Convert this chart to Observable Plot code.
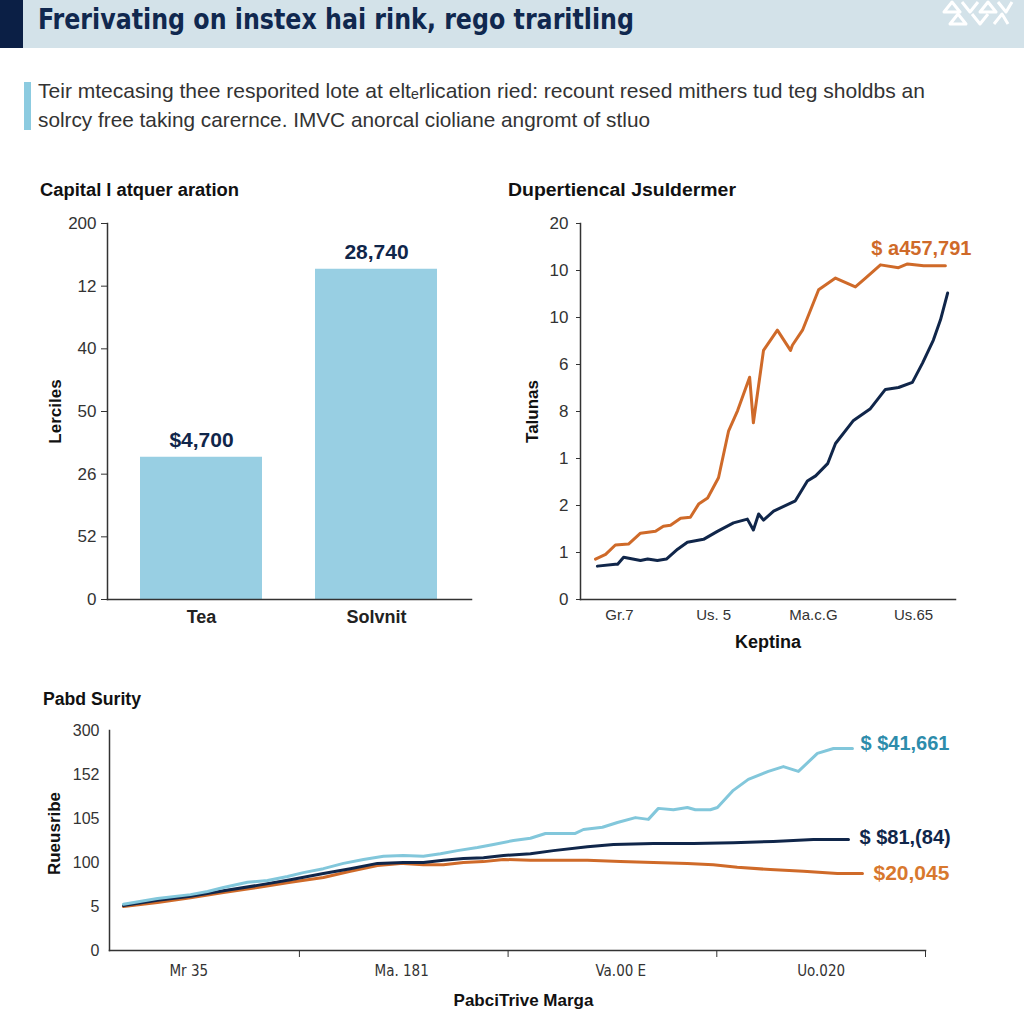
<!DOCTYPE html>
<html><head><meta charset="utf-8">
<script src="https://cdn.jsdelivr.net/npm/d3@7"></script>
<script src="https://cdn.jsdelivr.net/npm/@observablehq/plot@0.6"></script>
<style>
body{margin:0;background:#fff;}
#page{position:relative;width:1024px;height:1024px;overflow:hidden;background:#fff;font-family:"Liberation Sans",Arial,sans-serif;}
.panel{position:absolute;}
.cond{font-family:"Liberation Sans Narrow","DejaVu Sans Condensed","Liberation Sans",sans-serif;}
</style></head><body>
<div id="page">
<svg id="deco" width="1024" height="1024" style="position:absolute;left:0;top:0">
  <rect x="0" y="0" width="1024" height="48" fill="#d3e2e9"/>
  <rect x="0" y="0" width="23" height="48" fill="#0b1f45"/>
  <g fill="none" stroke="#fff" stroke-width="3" stroke-linejoin="round">
    <path d="M944 12 L952 2 L960 12 Z"/><path d="M962 2 L970 12 L978 2"/><path d="M980 12 L988 2 L996 12 Z"/><path d="M998 2 L1006 12 L1012 2"/>
    <path d="M950 24 L958 14 L966 24 Z"/><path d="M972 14 L980 24 L988 14"/><path d="M994 24 L1002 14 L1008 24"/>
  </g>
  <text id="t-title" class="cond" x="38" y="29" font-size="28" font-weight="700" fill="#10284f" textLength="596" lengthAdjust="spacingAndGlyphs"></text>
  <rect x="24" y="82" width="7" height="48" fill="#8ccbe0"/>
  <text id="t-sub1" x="38" y="98" font-size="21" fill="#333" textLength="887" lengthAdjust="spacingAndGlyphs"></text>
  <text id="t-sub2" x="38" y="127" font-size="21" fill="#333" textLength="612" lengthAdjust="spacingAndGlyphs"></text>
  <text id="t-p1" x="40" y="196" font-size="18" font-weight="700" fill="#111" textLength="199" lengthAdjust="spacingAndGlyphs"></text>
  <text id="t-p2" x="508" y="196" font-size="18" font-weight="700" fill="#111" textLength="228" lengthAdjust="spacingAndGlyphs"></text>
  <text id="t-p3" x="43" y="705" font-size="18" font-weight="700" fill="#111" textLength="98" lengthAdjust="spacingAndGlyphs"></text>
</svg>
<div id="p1" class="panel" style="left:0;top:200px;width:500px"></div>
<div id="p2" class="panel" style="left:500px;top:200px;width:524px"></div>
<div id="p3" class="panel" style="left:0;top:700px;width:1024px"></div>
</div>
<script>
// ---------- texts ----------
const mainTitle = "Frerivating on instex hai rink, rego traritling";
const subtitleLines = [
  "Teir mtecasing thee resporited lote at elt\u2091rlication ried: recount resed mithers tud teg sholdbs an",
  "solrcy free taking carernce. IMVC anorcal cioliane angromt of stluo"
];
const panelTitles = ["Capital l atquer aration", "Dupertiencal Jsuldermer", "Pabd Surity"];

// ---------- panel 1: bars ----------
const barCategories = ["Tea", "Solvnit"];
const barValues = [2.27, 5.27];
const barLabels = ["$4,700", "28,740"];
const p1TickLabels = ["0", "52", "26", "50", "40", "12", "200"];
const p1YTitle = "Lerciles";

// ---------- panel 2: two lines ----------
const p2OrangeX = [4.0, 6.7, 9.3, 12.8, 16.0, 20.0, 22.1, 24.0, 26.7, 29.3, 31.5, 33.9, 36.8, 39.5, 41.9, 45.1, 46.1, 48.8, 52.5, 56.0, 56.5, 59.2, 63.5, 68.0, 73.3, 76.0, 80.0, 84.8, 87.2, 91.5, 97.3];
const p2OrangeY = [0.86, 0.96, 1.16, 1.18, 1.41, 1.45, 1.56, 1.58, 1.73, 1.75, 2.03, 2.16, 2.59, 3.59, 4.02, 4.73, 3.76, 5.30, 5.73, 5.30, 5.41, 5.73, 6.59, 6.84, 6.65, 6.84, 7.12, 7.06, 7.14, 7.10, 7.10];
const p2NavyX = [4.5, 9.3, 9.9, 11.5, 16.0, 17.9, 20.5, 22.9, 25.9, 28.5, 32.8, 36.5, 40.8, 44.5, 46.1, 47.5, 48.8, 51.5, 57.3, 60.5, 62.7, 65.9, 68.0, 72.8, 77.3, 81.3, 84.8, 88.5, 91.2, 94.1, 96.0, 97.9];
const p2NavyY = [0.71, 0.75, 0.75, 0.90, 0.83, 0.86, 0.83, 0.86, 1.07, 1.22, 1.28, 1.45, 1.63, 1.71, 1.48, 1.82, 1.69, 1.88, 2.10, 2.52, 2.63, 2.89, 3.32, 3.81, 4.06, 4.47, 4.51, 4.62, 5.03, 5.52, 5.95, 6.52];
const p2TickLabels = ["0", "1", "2", "1", "8", "6", "10", "10", "20"];
const p2XTickPos = [10.4, 35.5, 62.1, 88.8];
const p2XTickLabels = ["Gr.7", "Us. 5", "Ma.c.G", "Us.65"];
const p2XTitle = "Keptina";
const p2YTitle = "Talunas";
const p2EndLabel = "$ a457,791";

// ---------- panel 3: three lines ----------
const p3BlueX = [0.157, 0.320, 0.478, 0.560, 0.636, 0.751, 0.847, 0.943, 1.019, 1.115, 1.211, 1.307, 1.403, 1.498, 1.594, 1.676, 1.757, 1.853, 1.930, 2.026, 2.107, 2.179, 2.322, 2.361, 2.452, 2.524, 2.610, 2.672, 2.720, 2.792, 2.859, 2.897, 2.969, 3.003, 3.079, 3.151, 3.247, 3.319, 3.391, 3.482, 3.559, 3.650];
const p3BlueY = [1.05, 1.18, 1.27, 1.34, 1.43, 1.55, 1.59, 1.68, 1.77, 1.86, 1.98, 2.07, 2.14, 2.16, 2.14, 2.20, 2.27, 2.34, 2.41, 2.50, 2.55, 2.66, 2.66, 2.75, 2.80, 2.91, 3.02, 2.98, 3.23, 3.20, 3.25, 3.20, 3.20, 3.25, 3.64, 3.89, 4.07, 4.18, 4.07, 4.48, 4.59, 4.59];
const p3NavyX = [0.157, 0.320, 0.478, 0.636, 0.799, 0.957, 1.115, 1.244, 1.374, 1.498, 1.594, 1.690, 1.786, 1.882, 1.978, 2.107, 2.217, 2.380, 2.505, 2.696, 2.888, 3.079, 3.271, 3.463, 3.631];
const p3NavyY = [1.02, 1.14, 1.23, 1.36, 1.48, 1.61, 1.75, 1.86, 1.98, 2.00, 2.00, 2.05, 2.09, 2.11, 2.16, 2.20, 2.27, 2.36, 2.41, 2.43, 2.43, 2.45, 2.48, 2.52, 2.52];
const p3OrangeX = [0.157, 0.320, 0.478, 0.636, 0.799, 0.957, 1.115, 1.244, 1.374, 1.498, 1.594, 1.690, 1.786, 1.882, 1.978, 2.107, 2.217, 2.380, 2.538, 2.696, 2.859, 2.983, 3.098, 3.256, 3.415, 3.578, 3.698];
const p3OrangeY = [1.00, 1.09, 1.20, 1.32, 1.43, 1.55, 1.66, 1.80, 1.93, 1.98, 1.95, 1.95, 2.00, 2.02, 2.07, 2.05, 2.05, 2.05, 2.02, 2.00, 1.98, 1.95, 1.89, 1.84, 1.80, 1.75, 1.75];
const p3TickLabels = ["0", "5", "100", "105", "152", "300"];
const p3XBoundaries = [1, 2, 3, 4];
const p3XTickPos = [0.47, 1.49, 2.54, 3.50];
const p3XTickLabels = ["Mr 35", "Ma. 181", "Va.00 E", "Uo.020"];
const p3XTitle = "PabciTrive Marga";
const p3YTitle = "Rueusribe";
const p3EndLabels = ["$ $41,661", "$ $81,(84)", "$20,045"];

// ---------- styles ----------
const NAVY = "#10264a", ORANGE = "#cf6a29", LBLUE = "#82c7db", BAR = "#98cfe3", TEAL = "#2d8cab", AXIS = "#333";
const FONT = "'Liberation Sans', Arial, sans-serif";
const COND = "'Liberation Sans Narrow', 'DejaVu Sans Condensed', 'Liberation Sans', sans-serif";

document.getElementById("t-title").textContent = mainTitle;
document.getElementById("t-sub1").textContent = subtitleLines[0];
document.getElementById("t-sub2").textContent = subtitleLines[1];
document.getElementById("t-p1").textContent = panelTitles[0];
document.getElementById("t-p2").textContent = panelTitles[1];
document.getElementById("t-p3").textContent = panelTitles[2];

const zip = (xs, ys) => xs.map((x, i) => ({x, y: ys[i]}));
const last = arr => arr[arr.length - 1];

// ---------- Panel 1 ----------
const bars = barCategories.map((c, i) => ({cat: c, value: barValues[i], label: barLabels[i]}));
const plot1 = Plot.plot({
  width: 500, height: 450,
  marginLeft: 107, marginRight: 29, marginTop: 23, marginBottom: 51,
  style: {fontFamily: FONT, background: "transparent", overflow: "visible"},
  x: {domain: barCategories, paddingInner: 0.3, paddingOuter: 0.19},
  y: {domain: [0, 6]},
  marks: [
    Plot.barY(bars, {x: "cat", y: "value", fill: BAR}),
    Plot.text(bars, {x: "cat", y: "value", text: "label", dy: -17, fontSize: 21, fontWeight: 700, fill: NAVY}),
    Plot.axisY({ticks: d3.range(7), tickFormat: d => p1TickLabels[d], tickSize: 6, tickPadding: 5, fontSize: 17, color: AXIS, label: null}),
    Plot.axisX({tickSize: 0, tickPadding: 11, fontSize: 18, fontWeight: 600, color: "#222", label: null}),
    Plot.frame({anchor: "left", stroke: AXIS, strokeWidth: 1.5}),
    Plot.frame({anchor: "bottom", stroke: AXIS, strokeWidth: 1.5}),
    Plot.text([p1YTitle], {frameAnchor: "left", dx: -52, rotate: -90, textAnchor: "middle", lineAnchor: "middle", fontSize: 17, fontWeight: 700, fill: "#111"})
  ]
});
document.getElementById("p1").append(plot1);

// ---------- Panel 2 ----------
const p2Orange = zip(p2OrangeX, p2OrangeY);
const p2Navy = zip(p2NavyX, p2NavyY);
const plot2 = Plot.plot({
  width: 524, height: 460,
  marginLeft: 80, marginRight: 69, marginTop: 23, marginBottom: 61,
  style: {fontFamily: FONT, background: "transparent", overflow: "visible"},
  x: {domain: [0, 100]},
  y: {domain: [0, 8]},
  marks: [
    Plot.line(p2Navy, {x: "x", y: "y", stroke: NAVY, strokeWidth: 3}),
    Plot.line(p2Orange, {x: "x", y: "y", stroke: ORANGE, strokeWidth: 3}),
    Plot.text([{...last(p2Orange), label: p2EndLabel}], {x: "x", y: "y", text: "label", dx: -24, dy: -17, textAnchor: "middle", fontSize: 20, fontWeight: 600, fill: ORANGE}),
    Plot.axisY({ticks: d3.range(9), tickFormat: d => p2TickLabels[d], tickSize: 4, tickPadding: 8, fontSize: 17, color: AXIS, label: null}),
    Plot.axisX({ticks: p2XTickPos, tickFormat: d => p2XTickLabels[p2XTickPos.indexOf(d)], tickSize: 0, tickPadding: 10, fontSize: 15, color: "#333", label: null}),
    Plot.frame({anchor: "left", stroke: AXIS, strokeWidth: 1.5}),
    Plot.frame({anchor: "bottom", stroke: AXIS, strokeWidth: 1.5}),
    Plot.text([p2YTitle], {frameAnchor: "left", dx: -48, rotate: -90, textAnchor: "middle", lineAnchor: "middle", fontSize: 17, fontWeight: 700, fill: "#111"}),
    Plot.text([p2XTitle], {frameAnchor: "bottom", dy: 43, textAnchor: "middle", lineAnchor: "middle", fontSize: 18, fontWeight: 700, fill: "#111"})
  ]
});
document.getElementById("p2").append(plot2);

// ---------- Panel 3 ----------
const p3Blue = zip(p3BlueX, p3BlueY);
const p3Navy = zip(p3NavyX, p3NavyY);
const p3Orange = zip(p3OrangeX, p3OrangeY);
const plot3 = Plot.plot({
  width: 1024, height: 320,
  marginLeft: 109, marginRight: 99, marginTop: 30, marginBottom: 70,
  style: {fontFamily: FONT, background: "transparent", overflow: "visible"},
  x: {domain: [0.09, 4.0]},
  y: {domain: [0, 5]},
  marks: [
    Plot.line(p3Orange, {x: "x", y: "y", stroke: ORANGE, strokeWidth: 3}),
    Plot.line(p3Navy, {x: "x", y: "y", stroke: NAVY, strokeWidth: 3}),
    Plot.line(p3Blue, {x: "x", y: "y", stroke: LBLUE, strokeWidth: 3}),
    Plot.text([{...last(p3Blue), label: p3EndLabels[0]}], {x: "x", y: "y", text: "label", dx: 8, dy: -5, textAnchor: "start", fontSize: 20, fontWeight: 700, fill: TEAL}),
    Plot.text([{...last(p3Navy), label: p3EndLabels[1]}], {x: "x", y: "y", text: "label", dx: 11, dy: -2, textAnchor: "start", fontSize: 20, fontWeight: 700, fill: NAVY}),
    Plot.text([{...last(p3Orange), label: p3EndLabels[2]}], {x: "x", y: "y", text: "label", dx: 11, dy: 0, textAnchor: "start", fontSize: 21, fontWeight: 700, fill: "#d8782e"}),
    Plot.axisY({ticks: d3.range(6), tickFormat: d => p3TickLabels[d], tickSize: 0, tickPadding: 10, fontSize: 16, color: AXIS, label: null}),
    Plot.axisX({ticks: p3XBoundaries, tickFormat: () => "", tickSize: 7, color: AXIS, label: null}),
    Plot.axisX({ticks: p3XTickPos, tickFormat: d => p3XTickLabels[p3XTickPos.indexOf(d)], tickSize: 0, tickPadding: 15, fontSize: 15, color: "#333", label: null, fontFamily: COND}),
    Plot.frame({anchor: "left", stroke: AXIS, strokeWidth: 1.5}),
    Plot.frame({anchor: "bottom", stroke: AXIS, strokeWidth: 1.5}),
    Plot.text([p3YTitle], {frameAnchor: "left", dx: -55, dy: -7, rotate: -90, textAnchor: "middle", lineAnchor: "middle", fontSize: 17, fontWeight: 700, fill: "#111"}),
    Plot.text([p3XTitle], {frameAnchor: "bottom", dx: 6, dy: 50, textAnchor: "middle", lineAnchor: "middle", fontSize: 17, fontWeight: 700, fill: "#111"})
  ]
});
document.getElementById("p3").append(plot3);
</script>
</body></html>
